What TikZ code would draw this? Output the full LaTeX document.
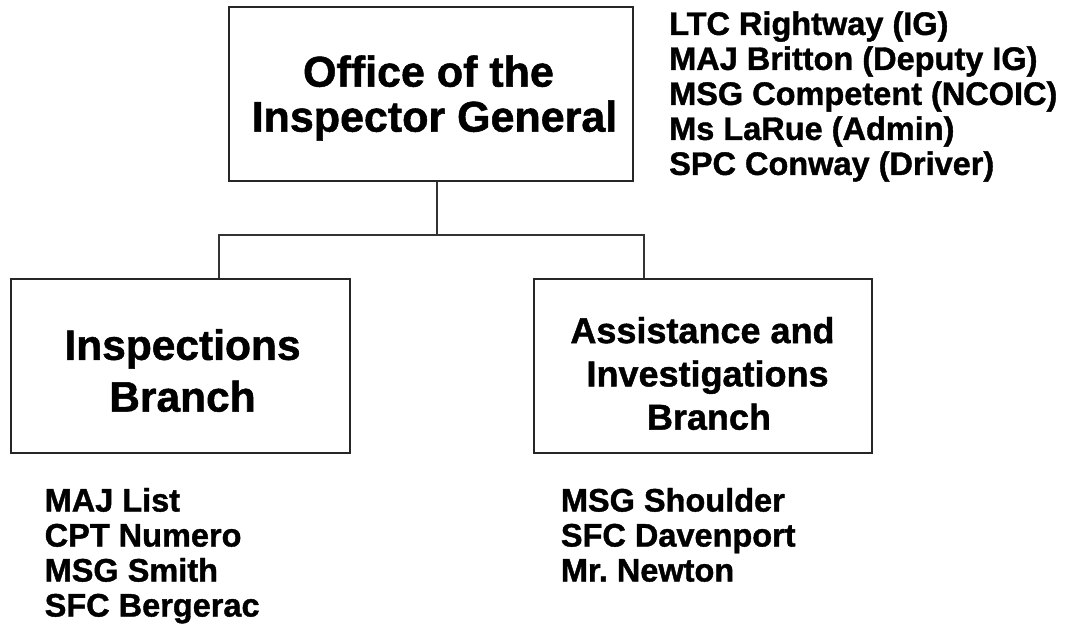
\documentclass[tikz,border=0pt]{standalone}
\usepackage{fontspec}
\setmainfont[BoldFeatures={FakeBold=1.2}]{Liberation Sans}
\begin{document}
\begin{tikzpicture}[x=1pt,y=-1pt,
  orgbox/.style={draw=black!85, line width=1.4pt, rectangle, inner sep=0pt},
  link/.style={draw=black!80, line width=1.3pt},
  boxtext/.style={inner sep=0pt, align=center, font=\bfseries},
  roster/.style={inner sep=0pt, align=left, anchor=west,
    font=\fontsize{32.5}{35}\selectfont\bfseries}]
  \useasboundingbox (0,0) rectangle (1076,632);

  % boxes
  \node (top)    [orgbox, minimum width=404pt, minimum height=174pt] at (431,94) {};
  \node (insp)   [orgbox, minimum width=339pt, minimum height=174pt] at (180.5,366) {};
  \node (assist) [orgbox, minimum width=338pt, minimum height=174pt] at (703,366) {};

  % box titles (the padding spaces keep the lines' original offsets)
  \node (toptext) [boxtext, font=\fontsize{43}{45}\selectfont\bfseries] at (434.5,98)
    {Office of the\hspace*{0.28em}\\Inspector General};
  \node (insptext) [boxtext, font=\fontsize{42.5}{51.7}\selectfont\bfseries] at (182.5,370.5)
    {Inspections\\Branch};
  \node (assisttext) [boxtext, font=\fontsize{36}{43.3}\selectfont\bfseries] at (702.5,373.5)
    {Assistance and\\\hspace*{0.28em}Investigations\\\hspace*{0.36em}Branch};

  % connectors
  \coordinate (hub) at (437,235);
  \coordinate (legl) at (219,235);
  \coordinate (legr) at (644,235);
  \draw[link] (hub |- top.south) -- (hub);
  \draw[link] (legl |- insp.north) -- (legl) -- (legr) -- (legr |- assist.north);

  % staff rosters
  \node (igstaff) [roster] at (669,96.5)
    {LTC Rightway (IG)\\MAJ Britton (Deputy IG)\\MSG Competent (NCOIC)\\Ms LaRue (Admin)\\SPC Conway (Driver)};
  \node (inspstaff) [roster] at (44.5,555.7)
    {MAJ List\\CPT Numero\\MSG Smith\\SFC Bergerac};
  \node (assiststaff) [roster] at (560.7,534.9)
    {MSG Shoulder\\SFC Davenport\\Mr.\ Newton};
\end{tikzpicture}
\end{document}
